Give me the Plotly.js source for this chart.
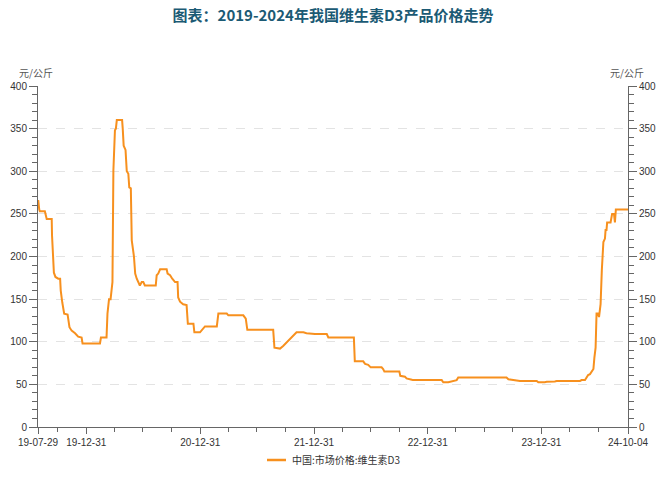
<!DOCTYPE html>
<html>
<head>
<meta charset="utf-8">
<script src="https://cdn.plot.ly/plotly-3.0.1.min.js"></script>
<style>
html,body{margin:0;padding:0;background:#fff;}
#chart{width:672px;height:477px;}
</style>
</head>
<body>
<div id="chart"></div>
<script>
// ---- data ----
const chartTitle = '图表：2019-2024年我国维生素D3产品价格走势';
const seriesName = '中国:市场价格:维生素D3';
const unitLabel = '元/公斤';

const dates = [
  '2019-07-29','2019-07-30','2019-08-02','2019-08-04','2019-08-20','2019-08-23','2019-08-26','2019-09-11','2019-09-12','2019-09-18',
  '2019-09-23','2019-10-02','2019-10-08','2019-10-10','2019-10-13','2019-10-15','2019-10-21','2019-11-01','2019-11-07','2019-11-14',
  '2019-11-25','2019-12-05','2019-12-16','2019-12-19','2020-02-13','2020-02-16','2020-03-05','2020-03-08','2020-03-13','2020-03-18',
  '2020-03-24','2020-03-27','2020-04-01','2020-04-04','2020-04-07','2020-04-24','2020-04-26','2020-04-29','2020-05-05','2020-05-09',
  '2020-05-14','2020-05-17','2020-05-22','2020-05-25','2020-06-01','2020-06-05','2020-06-10','2020-06-15','2020-06-20','2020-06-26',
  '2020-07-01','2020-07-06','2020-08-10','2020-08-13','2020-08-18','2020-08-24','2020-09-14','2020-09-17','2020-09-25','2020-10-02',
  '2020-10-11','2020-10-19','2020-10-21','2020-10-27','2020-11-06','2020-11-17','2020-11-21','2020-12-09','2020-12-12','2020-12-30',
  '2021-01-04','2021-01-15','2021-02-22','2021-02-27','2021-03-26','2021-03-31','2021-05-18','2021-05-26','2021-05-31','2021-08-22',
  '2021-08-26','2021-09-13','2021-09-23','2021-10-04','2021-10-15','2021-10-26','2021-11-05','2021-11-27','2021-12-07','2022-01-03',
  '2022-02-10','2022-02-15','2022-05-08','2022-05-11','2022-06-07','2022-06-13','2022-06-23','2022-07-01','2022-08-05','2022-08-10',
  '2022-08-14','2022-10-01','2022-10-04','2022-10-19','2022-10-24','2022-11-10','2022-11-13','2023-02-14','2023-02-19','2023-03-07',
  '2023-03-23','2023-04-03','2023-04-08','2023-09-10','2023-09-16','2023-10-02','2023-10-23','2023-12-16','2023-12-21','2024-01-11',
  '2024-01-17','2024-02-12','2024-02-18','2024-05-03','2024-05-08','2024-05-19','2024-05-24','2024-05-29','2024-06-04','2024-06-09',
  '2024-06-15','2024-06-18','2024-06-22','2024-06-25','2024-06-29','2024-07-03','2024-07-08','2024-07-12','2024-07-17','2024-07-22',
  '2024-07-24','2024-07-27','2024-07-29','2024-08-09','2024-08-14','2024-08-20','2024-08-23','2024-08-26','2024-10-04'
];
const prices = [
  265,265,255,253,253,248,244,244,225,181,
  176,174,174,160,149,146,133,132,117,113,
  110,106,105,98,98,105,105,133,150,150,
  170,301,348,350,360,360,350,330,325,300,
  297,281,280,219,200,180,174,170,166,170,
  170,166,166,178,180,185,185,180,178,174,
  170,170,152,147,144,143,121,121,111,111,
  113,118,118,133,133,131,131,127,114,114,
  93,92,95,99,104,108,111,111,110,109,
  109,105,105,77,77,74,73,70,70,68,
  65,65,60,59,57,55.5,55,55,52.5,52.5,
  53.5,55,58,58,56,55,54,54,52.5,52.5,
  53,53.5,54,54,55,55,58,61,62,65,
  68,81,93,133,133,129,144,184,217,221,
  231,231,240,240,250,250,240,255,255
];

const xStart = '2019-07-29';
const xEnd = '2024-10-04';
const xTickVals = ['2019-07-29','2019-12-31','2020-12-31','2021-12-31','2022-12-31','2023-12-31','2024-10-04'];
const xTickText = ['19-07-29','19-12-31','20-12-31','21-12-31','22-12-31','23-12-31','24-10-04'];
const xMinorVals = [
  '2019-09-30','2020-03-31','2020-06-30','2020-09-30','2021-03-31','2021-06-30','2021-09-30',
  '2022-03-31','2022-06-30','2022-09-30','2023-03-31','2023-06-30','2023-09-30','2024-03-31','2024-06-30'
];
const yRange = [0, 400];

// ---- layout helpers ----
const W = 672, H = 477;
const L = 38, R = 44, T = 86, B = 50;
const pw = W - L - R, ph = H - T - B;
const px2x = p => (p - L) / pw;
const px2y = p => (H - B - p) / ph;

const lineColor = '#f7901e';
const axisColor = '#666666';
const tickFont = {family: 'Liberation Sans, Arial, sans-serif', size: 10, color: '#333333'};
const cjkFont = 'Noto Sans CJK SC, sans-serif';

const traces = [
  {x: dates, y: prices, type: 'scatter', mode: 'lines', name: seriesName,
   line: {color: lineColor, width: 2}, showlegend: false, hoverinfo: 'x+y'},
  {x: dates, y: prices, type: 'scatter', mode: 'lines', yaxis: 'y2',
   line: {color: 'rgba(0,0,0,0)', width: 0}, showlegend: false, hoverinfo: 'skip'}
];

const yCommon = {
  range: yRange, tickmode: 'linear', tick0: 0, dtick: 50,
  ticks: 'outside', ticklen: 8, tickwidth: 1, tickcolor: axisColor,
  minor: {dtick: 10, tick0: 0, ticks: 'outside', ticklen: 5, tickwidth: 1, tickcolor: axisColor, showgrid: false},
  showline: true, linecolor: axisColor, linewidth: 1,
  zeroline: false, tickfont: tickFont, fixedrange: true
};

const layout = {
  width: W, height: H,
  margin: {l: L, r: R, t: T, b: B, pad: 0},
  paper_bgcolor: '#ffffff', plot_bgcolor: '#ffffff',
  showlegend: false,
  title: {
    text: '<b>' + chartTitle + '</b>',
    x: 0.5, xanchor: 'center', xref: 'paper', y: 1 - 16 / H, yanchor: 'middle',
    font: {family: cjkFont, size: 15, color: '#1b5a74'}
  },
  xaxis: {
    type: 'date', range: [xStart, xEnd],
    tickmode: 'array', tickvals: xTickVals, ticktext: xTickText,
    ticks: 'outside', ticklen: 6, tickwidth: 1, tickcolor: axisColor,
    minor: {tickmode: 'array', tickvals: xMinorVals, ticks: 'outside', ticklen: 4, tickwidth: 1, tickcolor: axisColor, showgrid: false},
    showline: true, linecolor: axisColor, linewidth: 1,
    showgrid: false, zeroline: false, tickfont: tickFont, fixedrange: true
  },
  yaxis: Object.assign({}, yCommon, {
    side: 'left', showgrid: true, gridcolor: '#e3e3e3', griddash: 'dash', gridwidth: 1
  }),
  yaxis2: Object.assign({}, yCommon, {
    side: 'right', overlaying: 'y', anchor: 'x', showgrid: false
  }),
  shapes: [
    {type: 'line', xref: 'paper', yref: 'paper', x0: px2x(267), x1: px2x(286), y0: px2y(460), y1: px2y(460),
     line: {color: lineColor, width: 2.5}}
  ],
  annotations: [
    {text: unitLabel, xref: 'paper', yref: 'paper', x: px2x(36), y: px2y(72), xanchor: 'center', yanchor: 'middle',
     showarrow: false, font: {family: cjkFont, size: 10, color: '#555555'}},
    {text: unitLabel, xref: 'paper', yref: 'paper', x: px2x(627), y: px2y(72), xanchor: 'center', yanchor: 'middle',
     showarrow: false, font: {family: cjkFont, size: 10, color: '#555555'}},
    {text: seriesName, xref: 'paper', yref: 'paper', x: px2x(290), y: px2y(460), xanchor: 'left', yanchor: 'middle',
     showarrow: false, font: {family: cjkFont, size: 10, color: '#333333'}}
  ]
};

Plotly.newPlot('chart', traces, layout, {displayModeBar: false, staticPlot: true});
</script>
</body>
</html>
